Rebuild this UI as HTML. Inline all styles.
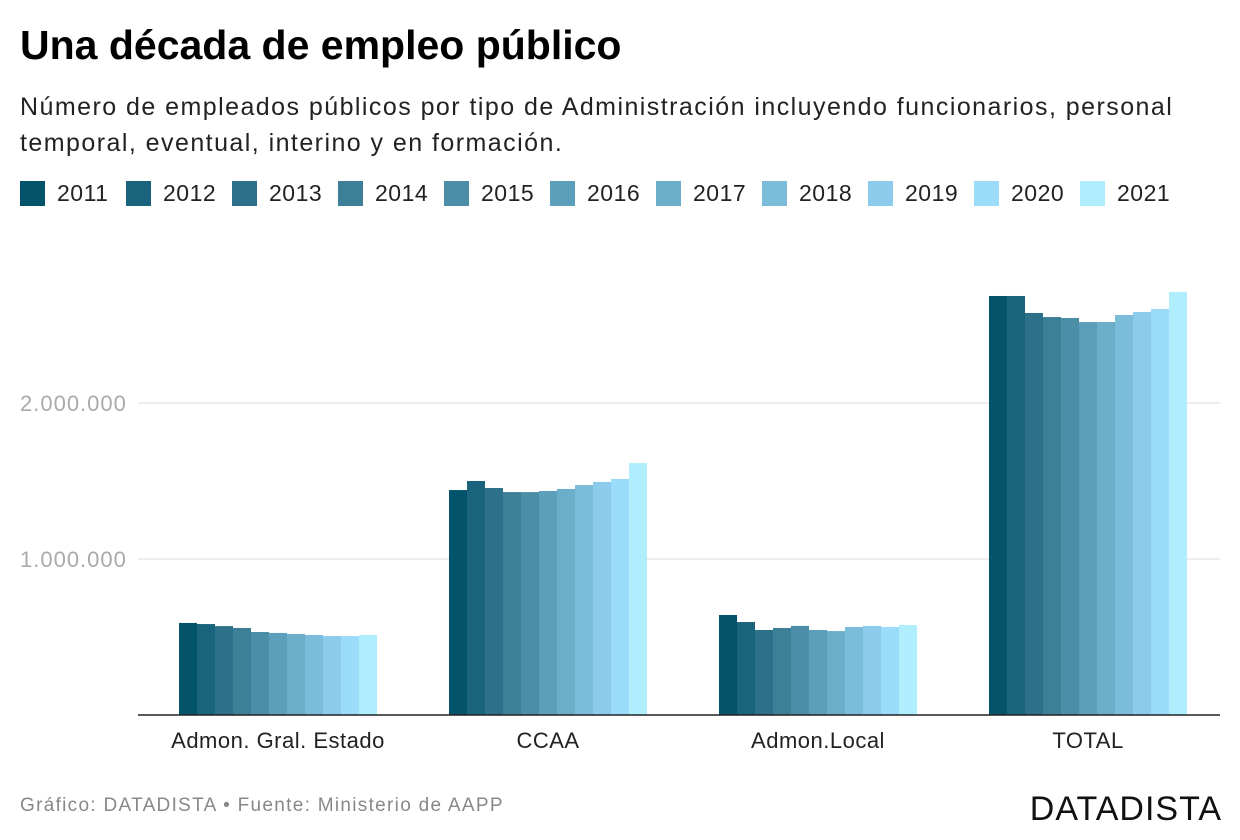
<!DOCTYPE html>
<html><head><meta charset="utf-8"><style>
body{margin:0;background:#fff;font-family:"Liberation Sans",sans-serif;}
#wrap{position:relative;width:1240px;height:840px;overflow:hidden}
h1{position:absolute;left:20px;top:22px;margin:0;font-size:41px;font-weight:bold;color:#000}
.sub{position:absolute;left:20px;top:89px;width:1200px;font-size:25px;letter-spacing:1.45px;line-height:36px;color:#222}
.leg{position:absolute;top:180px;left:20px;display:flex}
.li{display:flex;align-items:center;width:106px;font-size:23px;letter-spacing:0.5px;color:#222}
.sw{width:25px;height:25px;margin-right:12px}
.foot{position:absolute;left:20px;top:795px;font-size:19px;letter-spacing:1.3px;color:#888}
.brand{position:absolute;right:18px;top:790px;font-size:34px;color:#111;letter-spacing:1px}
</style></head><body><div id="wrap">
<h1>Una década de empleo público</h1>
<div class="sub">Número de empleados públicos por tipo de Administración incluyendo funcionarios, personal temporal, eventual, interino y en formación.</div>
<div class="leg" id="leg"></div>
<svg id="svg" width="1240" height="840" style="position:absolute;left:0;top:0;pointer-events:none"></svg>
<div class="foot">Gráfico: DATADISTA • Fuente: Ministerio de AAPP</div>
<div class="brand">DATADISTA</div>
</div>
<script>
const categories=["Admon. Gral. Estado","CCAA","Admon.Local","TOTAL"];
const years=["2011","2012","2013","2014","2015","2016","2017","2018","2019","2020","2021"];
const colors=["#03536a","#1a637c","#2c7189","#3d7f97","#4c8ea8","#5b9fba","#6aaeca","#7cbcdb","#8ccbeb","#9cdcfb","#b0eefe"];
const age=[590000,583000,570000,558000,532000,526000,519000,513000,506000,506000,513000];
const ccaa=[1442000,1500000,1455000,1429000,1429000,1436000,1449000,1474000,1494000,1513000,1615000];
const local=[641000,596000,545000,558000,571000,545000,538000,564000,571000,564000,577000];
const total=[2686000,2686000,2577000,2551000,2545000,2519000,2519000,2564000,2583000,2603000,2712000];
const series=[age,ccaa,local,total];
const ticks=[1000000,2000000];
const tickLabels=["1.000.000","2.000.000"];
const NS="http://www.w3.org/2000/svg";
const svg=document.getElementById('svg');
const y=v=>715-v/1000000*156;
const groupX=i=>179+i*270;
const barW=18;
function mk(t,a){const e=document.createElementNS(NS,t);for(const k in a)e.setAttribute(k,a[k]);svg.appendChild(e);return e;}
ticks.forEach((t,i)=>{
 const l=mk('line',{x1:138,x2:1220,y1:y(t),y2:y(t),stroke:'#ddd','stroke-width':1});
 
 
 const tx=mk('text',{x:20,y:y(t)+8,'font-size':22,'letter-spacing':1,fill:'#aaa','font-family':'Liberation Sans'});
 tx.textContent=tickLabels[i];
 
 
});
series.forEach((s,gi)=>{
 s.forEach((v,yi)=>{
  const r=mk('rect',{x:groupX(gi)+yi*barW,y:y(v),width:barW,height:715-y(v),fill:colors[yi]});
  
  
 });
 const tx=mk('text',{x:groupX(gi)+99,y:748,'font-size':22,'letter-spacing':0.5,fill:'#222','text-anchor':'middle','font-family':'Liberation Sans'});
 tx.textContent=categories[gi];
 
 
});
const base=mk('line',{x1:138,x2:1220,y1:715,y2:715,stroke:'#222','stroke-width':1.5});


const leg=document.getElementById('leg');
years.forEach((yr,i)=>{
 const d=document.createElement('div');d.className='li';
 
 
 d.innerHTML='<div class="sw" style="background:'+colors[i]+'"></div>'+yr;
 leg.appendChild(d);
});
</script></body></html>
